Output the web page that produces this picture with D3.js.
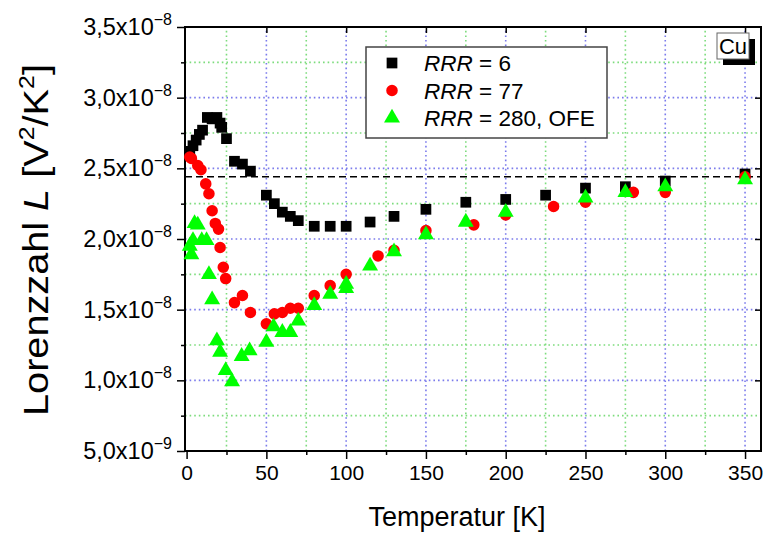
<!DOCTYPE html>
<meta charset="utf-8">
<title>Lorenzzahl Cu</title>
<style>
body { margin: 0; background: #fff; }
svg { font-family: "Liberation Sans", Arial, sans-serif; }
</style>
<body>
<script src="https://d3js.org/d3.v7.min.js"></script>
<script>

var width = 769,
    height = 533;

// values, L in units of 1e-8 V^2/K^2
var rrr6T = [2, 4, 6, 8, 10, 13, 16, 19, 21, 22, 25, 30, 35, 40, 50, 55, 60, 65, 70, 80, 90, 100, 115, 130, 150, 175, 200, 225, 250, 275, 300, 350];
var rrr6L = [2.62, 2.66, 2.70, 2.74, 2.77, 2.86, 2.85, 2.86, 2.82, 2.79, 2.71, 2.55, 2.53, 2.48, 2.31, 2.25, 2.19, 2.16, 2.13, 2.09, 2.09, 2.09, 2.12, 2.16, 2.21, 2.26, 2.28, 2.31, 2.36, 2.37, 2.41, 2.46];

var rrr77T = [2, 3, 7, 9, 12, 14, 16, 18, 20, 21, 23, 24.5, 30, 35, 40, 50, 55, 60, 65, 70, 80, 90, 100, 120, 130, 150, 180, 200, 230, 250, 280, 300, 350];
var rrr77L = [2.58, 2.57, 2.52, 2.49, 2.39, 2.32, 2.20, 2.11, 2.07, 1.94, 1.80, 1.72, 1.55, 1.60, 1.48, 1.40, 1.47, 1.48, 1.51, 1.51, 1.60, 1.67, 1.75, 1.88, 1.92, 2.06, 2.10, 2.17, 2.23, 2.26, 2.33, 2.33, 2.44];

var rrr280T = [2, 3, 4, 5, 7, 9.5, 12.5, 14, 16, 19, 21, 24.5, 28.5, 34.5, 39.5, 50, 54.5, 60, 65, 70, 80, 90, 100, 100, 115, 130, 150, 175, 200, 250, 275, 300, 350];
var rrr280L = [1.95, 1.89, 1.99, 2.11, 2.10, 1.99, 1.99, 1.75, 1.57, 1.28, 1.20, 1.07, 0.99, 1.17, 1.21, 1.27, 1.38, 1.34, 1.34, 1.42, 1.53, 1.61, 1.68, 1.65, 1.81, 1.91, 2.03, 2.12, 2.19, 2.29, 2.33, 2.37, 2.42];

var lorenzL0 = 2.44;   // Sommerfeld value

var xMajor = [0, 50, 100, 150, 200, 250, 300, 350],
    xMinor = [25, 75, 125, 175, 225, 275, 325],
    yMajor = [0.5, 1.0, 1.5, 2.0, 2.5, 3.0, 3.5],
    yMinor = [0.75, 1.25, 1.75, 2.25, 2.75, 3.25];

var legendLabels = ["6", "77", "280, OFE"];

var x = d3.scaleLinear().domain([-1, 360]).range([185, 761]);
var y = d3.scaleLinear().domain([0.5, 3.5]).range([451, 27]);

var svg = d3.select("body").append("svg")
    .attr("width", width)
    .attr("height", height);

// grid (dotted, blue at major ticks, green at minor ticks)
var grid = svg.append("g");
function vline(vals, col) {
  grid.selectAll(null).data(vals).enter().append("line")
    .attr("x1", d => x(d)).attr("x2", d => x(d))
    .attr("y1", y(0.5)).attr("y2", y(3.5))
    .style("stroke", col).style("stroke-width", "1.6px")
    .style("stroke-dasharray", "1.6,3");
}
function hline(vals, col) {
  grid.selectAll(null).data(vals).enter().append("line")
    .attr("y1", d => y(d)).attr("y2", d => y(d))
    .attr("x1", x.range()[0]).attr("x2", x.range()[1])
    .style("stroke", col).style("stroke-width", "1.6px")
    .style("stroke-dasharray", "1.6,3");
}
vline(xMajor.slice(1), "#7b7bec");
vline(xMinor, "#7ddc7d");
hline(yMajor.slice(1, -1), "#7b7bec");
hline(yMinor, "#7ddc7d");

// dashed L0 line
svg.append("line")
    .attr("x1", x.range()[0]).attr("x2", x.range()[1])
    .attr("y1", y(lorenzL0)).attr("y2", y(lorenzL0))
    .attr("stroke", "#000").attr("stroke-width", 1.5)
    .attr("stroke-dasharray", "7,4");

// axes
var xAxis = d3.axisBottom(x).tickValues(xMajor).tickSize(8).tickFormat(d3.format("d"));
var xAxisMinor = d3.axisBottom(x).tickValues(xMinor).tickSize(4).tickFormat("");
var yAxis = d3.axisLeft(y).tickValues(yMajor).tickSize(8).tickFormat("");
var yAxisMinor = d3.axisLeft(y).tickValues(yMinor).tickSize(4).tickFormat("");

function styleAxis(g) {
  g.select(".domain").remove();
  g.selectAll(".tick line").attr("stroke", "#000").attr("stroke-width", 1.5);
  g.selectAll("text").attr("font-family", "Liberation Sans, Arial, sans-serif")
    .attr("font-size", 21).attr("fill", "#000");
}

var gx = svg.append("g").attr("transform", "translate(0," + y(0.5) + ")").call(xAxis).call(styleAxis);
gx.selectAll("text").attr("dy", "0.85em").attr("y", 11);
svg.append("g").attr("transform", "translate(0," + y(0.5) + ")").call(xAxisMinor).call(styleAxis);
svg.append("g").attr("transform", "translate(" + x.range()[0] + ",0)").call(yAxis).call(styleAxis);
svg.append("g").attr("transform", "translate(" + x.range()[0] + ",0)").call(yAxisMinor).call(styleAxis);
// inward ticks on top and right
svg.append("g").attr("transform", "translate(0," + y(3.5) + ")")
    .call(d3.axisBottom(x).tickValues(xMajor.slice(1)).tickSize(6).tickFormat("")).call(styleAxis);
svg.append("g").attr("transform", "translate(" + x.range()[1] + ",0)")
    .call(d3.axisLeft(y).tickValues(yMajor.slice(1, -1)).tickSize(6).tickFormat("")).call(styleAxis);

// y tick labels like 3,5x10^-8
var yLab = svg.append("g").attr("font-size", 23.5);
yMajor.forEach(function(v) {
  var exp = v < 1 ? -9 : -8,
      mant = v < 1 ? v * 10 : v;
  var t = yLab.append("text")
      .attr("x", x.range()[0] - 13)
      .attr("y", y(v) + 8)
      .attr("text-anchor", "end");
  t.append("tspan").text(mant.toFixed(1).replace(".", ",") + "x10");
  t.append("tspan").attr("font-size", 16).attr("dy", -10).text("\u2212" + Math.abs(exp));
});

// frame
svg.append("rect")
    .attr("x", x.range()[0]).attr("y", y(3.5))
    .attr("width", x.range()[1] - x.range()[0])
    .attr("height", y(0.5) - y(3.5))
    .attr("fill", "none").attr("stroke", "#000").attr("stroke-width", 2);

// data
var sqr = d3.symbol().type(d3.symbolSquare).size(115)(),
    circ = d3.symbol().type(d3.symbolCircle).size(105)(),
    tri = d3.symbol().type(d3.symbolTriangle).size(110)();

function plot(T, L, path, color) {
  svg.append("g").selectAll("path")
      .data(T.map((t, i) => [t, L[i]]))
    .enter().append("path")
      .attr("d", path)
      .attr("fill", color)
      .attr("transform", d => "translate(" + x(d[0]) + "," + y(d[1]) + ")");
}
plot(rrr6T, rrr6L, sqr, "#000");
plot(rrr77T, rrr77L, circ, "#ff0000");
plot(rrr280T, rrr280L, tri, "#00ff00");

// legend
var leg = svg.append("g");
leg.append("rect")
    .attr("x", 366).attr("y", 47).attr("width", 241).attr("height", 91)
    .attr("fill", "#fff").attr("stroke", "#444").attr("stroke-width", 1.5);
var legSym = [sqr, circ, tri], legCol = ["#000", "#ff0000", "#00ff00"];
legendLabels.forEach(function(lbl, i) {
  var cy = 63 + i * 27.5;
  leg.append("path").attr("d", legSym[i]).attr("fill", legCol[i])
      .attr("transform", "translate(392," + cy + ")");
  var t = leg.append("text").attr("x", 424).attr("y", cy + 8).attr("font-size", 22.5);
  t.append("tspan").attr("font-style", "italic").text("RRR");
  t.append("tspan").text(" = " + lbl);
});

// Cu label box with shadow
svg.append("rect").attr("x", 723).attr("y", 39).attr("width", 32).attr("height", 26).attr("fill", "#000");
svg.append("rect").attr("x", 717).attr("y", 33).attr("width", 32).attr("height", 26)
    .attr("fill", "#fff").attr("stroke", "#666").attr("stroke-width", 1);
svg.append("text").attr("x", 733).attr("y", 54).attr("text-anchor", "middle")
    .attr("font-size", 22).text("Cu");

// axis titles
svg.append("text")
    .attr("x", 457).attr("y", 526)
    .attr("text-anchor", "middle").attr("font-size", 27)
    .text("Temperatur [K]");

var yt = svg.append("text")
    .attr("transform", "translate(48,240) rotate(-90)")
    .attr("text-anchor", "middle").attr("font-size", 35)
    .attr("textLength", 352).attr("lengthAdjust", "spacingAndGlyphs");
yt.append("tspan").text("Lorenzzahl ");
yt.append("tspan").attr("font-style", "italic").text("L");
yt.append("tspan").text(" [V");
yt.append("tspan").attr("font-size", 22).attr("dy", -14).text("2");
yt.append("tspan").attr("dy", 14).text("/K");
yt.append("tspan").attr("font-size", 22).attr("dy", -14).text("2");
yt.append("tspan").attr("dy", 14).text("]");

</script>
</body>
